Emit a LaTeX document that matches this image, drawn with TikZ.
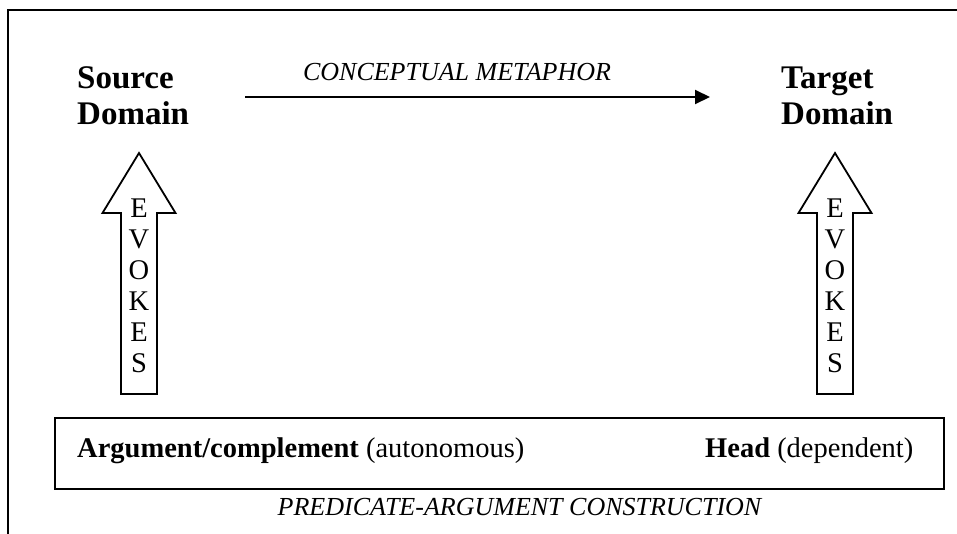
\documentclass[tikz,border=0pt]{standalone}
\usepackage{fontspec}
\setmainfont{Liberation Serif}
\usetikzlibrary{arrows.meta}
\begin{document}
\begin{tikzpicture}[x=1pt,y=-1pt,
  frameline/.style={line width=2.2pt, line cap=rect},
  title/.style={font=\fontsize{33}{36}\selectfont\bfseries, inner sep=0pt, anchor=base west},
  body/.style={font=\fontsize{28.5}{31}\selectfont, inner sep=0pt, anchor=base west},
  caption/.style={font=\fontsize{26}{30}\selectfont\itshape, inner sep=0pt, anchor=base},
  blockarrow/.style={line width=1.8pt, line join=miter},
  letter/.style={font=\fontsize{28.5}{31}\selectfont, inner sep=0pt, anchor=base},
  mapping/.style={line width=2pt, -{Triangle[length=15pt,width=14pt]}},
  constr/.style={draw, line width=2pt, minimum width=889pt, minimum height=71pt, inner sep=0pt},
]
\useasboundingbox (0,0) rectangle (957,533);
\fill[white] (0,0) rectangle (957,533);

% open frame
\draw[frameline] (8,533) -- (8,10) -- (957,10);

% domain titles
\node[title] (srcTop) at (77,88) {Source};
\node[title] (srcBot) at (77,124) {Domain};
\node[title] (tgtTop) at (781,88) {Target};
\node[title] (tgtBot) at (781,124) {Domain};

% conceptual metaphor mapping
\coordinate (cmStart) at (245,97);
\coordinate (cmEnd) at (710,97);
\draw[mapping] (cmStart) -- (cmEnd);
\node[caption] (cmLabel) at (457,80) {CONCEPTUAL METAPHOR};

% EVOKES block arrows
\foreach \cx/\nm in {139/src, 835/tgt}{
  \draw[blockarrow] (\cx-18,394) -- (\cx-18,213) -- (\cx-36.5,213) -- (\cx,153)
    -- (\cx+36.5,213) -- (\cx+18,213) -- (\cx+18,394) -- cycle;
  \foreach \ch [count=\i] in {E,V,O,K,E,S}
    \node[letter] (\nm-ev\i) at (\cx,{217+31*(\i-1)}) {\ch};
}

% predicate-argument construction
\node[constr] (pac) at (499.5,453.5) {};
\node[body] (arg) at (77,457) {\textbf{Argument/complement} (autonomous)};
\node[body] (head) at (705,457) {\textbf{Head} (dependent)};
\node[caption] (pacLabel) at (519.5,515) {PREDICATE-ARGUMENT CONSTRUCTION};
\end{tikzpicture}
\end{document}
